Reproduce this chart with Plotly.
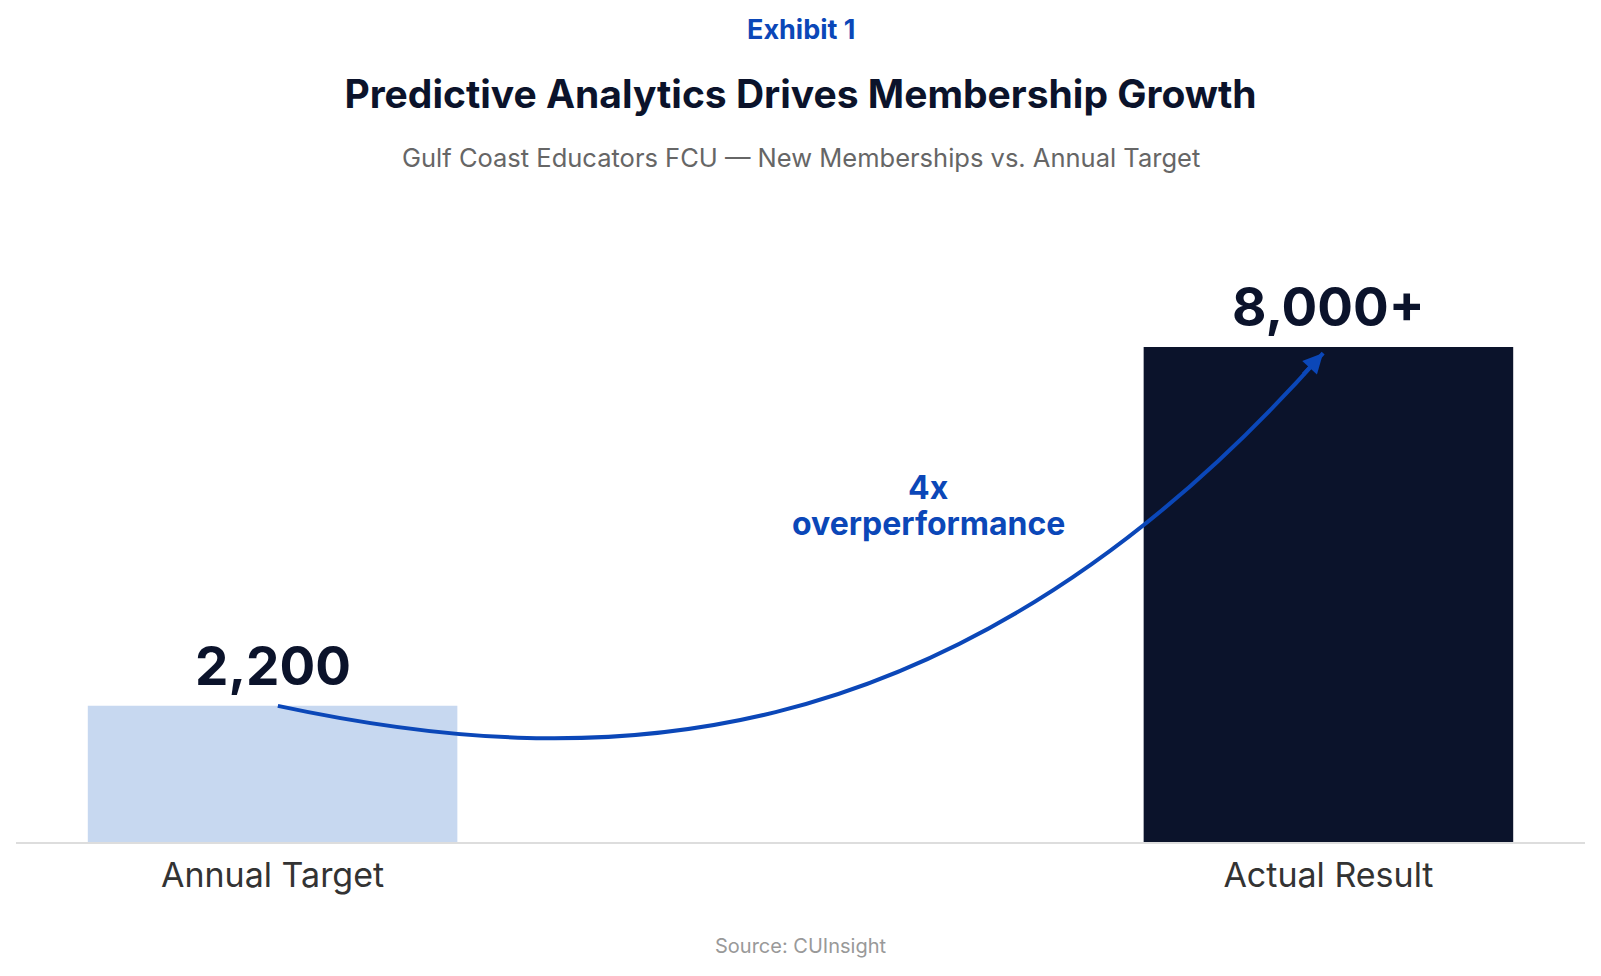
import plotly.graph_objects as go

# Data
categories = ["Annual Target", "Actual Result"]
values = [2200, 8000]
value_labels = ["2,200", "8,000+"]
bar_colors = ["#C7D8F0", "#0B132B"]

# Callout arrow (cubic bezier, data coords: start, ctrl1, ctrl2, tip)
arrow_x = [0.005, 0.295, 0.642, 0.995]
arrow_y = [2200, 1140, 1090, 7900]

NAVY = "#0B132B"
BLUE = "#0B47B8"
FONT = "Inter, Noto Sans, sans-serif"

# page body has an 8px margin, so the figure is 16px smaller than the window
W, H = 1585, 960
BASE = 842  # baseline in page px, used for placing header/footer text

fig = go.Figure()

fig.add_trace(go.Bar(
    x=[0, 1],
    y=values,
    width=0.35,
    marker=dict(color=bar_colors, line=dict(width=0)),
    hoverinfo="skip",
    showlegend=False,
))

# value labels on top of each bar
for i, (v, lab) in enumerate(zip(values, value_labels)):
    fig.add_annotation(
        x=i, y=v, xref="x", yref="y",
        text=lab, showarrow=False,
        yanchor="bottom", yshift=6,
        font=dict(family=FONT, size=53, color=NAVY, weight=700),
    )

# curved arrow
path = "M {},{} C {},{} {},{} {},{}".format(
    arrow_x[0], arrow_y[0], arrow_x[1], arrow_y[1],
    arrow_x[2], arrow_y[2], arrow_x[3], arrow_y[3],
)
fig.add_shape(
    type="path", path=path, xref="x", yref="y",
    line=dict(color=BLUE, width=4),
)
# arrow head at the tip, pointing along the end tangent
fig.add_annotation(
    x=arrow_x[3], y=arrow_y[3], xref="x", yref="y",
    ax=arrow_x[3] - 0.02, ay=arrow_y[3] - 370, axref="x", ayref="y",
    text="", showarrow=True,
    arrowhead=2, arrowsize=1, arrowwidth=4, arrowcolor=BLUE,
    standoff=0,
)

# callout text, two lines set tighter than plotly's default line height
for txt, yv in [("4x", 5735), ("overperformance", 5153)]:
    fig.add_annotation(
        x=0.621, y=yv, xref="x", yref="y",
        text=txt, showarrow=False, yanchor="middle",
        font=dict(family=FONT, size=32, color=BLUE, weight=700),
    )

# header / footer
fig.add_annotation(
    x=0.5, y=(BASE - 29) / 557, xref="paper", yref="paper",
    text="Exhibit 1", showarrow=False, yanchor="middle",
    font=dict(family=FONT, size=27, color=BLUE, weight=700),
)
fig.add_annotation(
    x=0.5, y=(BASE - 157) / 557, xref="paper", yref="paper",
    text="Gulf Coast Educators FCU \u2014 New Memberships vs. Annual Target",
    showarrow=False, yanchor="middle",
    font=dict(family=FONT, size=25.5, color="#666666"),
)
fig.add_annotation(
    x=0.5, y=(BASE - 946) / 557, xref="paper", yref="paper",
    text="Source: CUInsight", showarrow=False, yanchor="middle",
    font=dict(family=FONT, size=20, color="#999999"),
)

fig.update_layout(
    width=W,
    height=H,
    margin=dict(l=8, r=8, t=277, b=126),
    paper_bgcolor="white",
    plot_bgcolor="white",
    title=dict(
        text="Predictive Analytics Drives Membership Growth",
        x=0.5, xanchor="center",
        y=1 - (94 - 8) / H, yanchor="middle",
        font=dict(family=FONT, size=39, color=NAVY, weight=700),
    ),
    xaxis=dict(
        range=[-0.243, 1.243],
        tickvals=[0, 1],
        ticktext=categories,
        tickfont=dict(family=FONT, size=34, color="#333333"),
        ticklabelstandoff=2,
        showgrid=False,
        zeroline=False,
        showline=True,
        linecolor="#DDDDDD",
        linewidth=2,
        ticks="",
        fixedrange=True,
    ),
    yaxis=dict(
        range=[0, 9000],
        visible=False,
        fixedrange=True,
    ),
    showlegend=False,
)

fig.write_html("out.html")
